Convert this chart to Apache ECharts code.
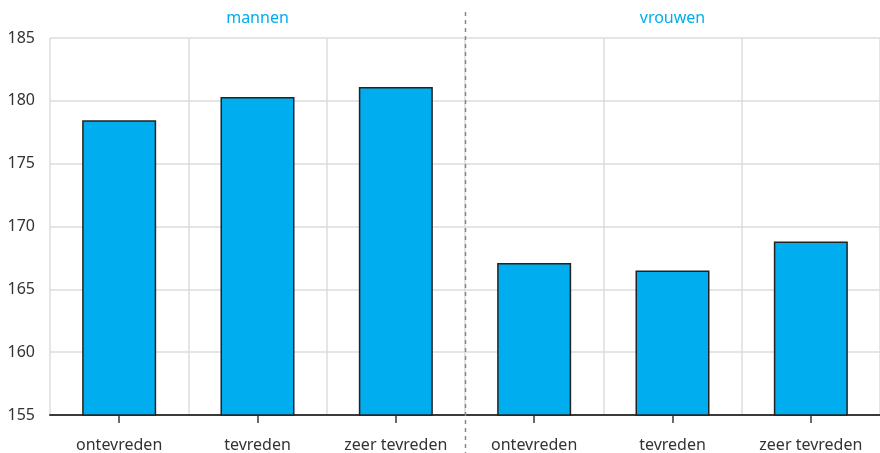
<!DOCTYPE html>
<html><head><meta charset="utf-8">
<script src="https://cdn.jsdelivr.net/npm/echarts@6/dist/echarts.min.js"></script>
<style>html,body{margin:0;padding:0;background:#fff}#c{width:880px;height:453px}</style>
</head><body><div id="c"></div>
<script>
const categories = ['ontevreden','tevreden','zeer tevreden','ontevreden','tevreden','zeer tevreden'];
const groups = ['mannen','vrouwen'];
const values = [178.45, 180.3, 181.1, 167.1, 166.5, 168.8];
const yTicks = {min:155, max:185, interval:5};

const chart = echarts.init(document.getElementById('c'), null, {renderer:'canvas'});
const font = 'Noto Sans';
chart.setOption({
  animation:false,
  grid:{left:50, width:833, top:38, bottom:38},
  xAxis:[{
    type:'category', data:categories, boundaryGap:true,
    axisLine:{lineStyle:{color:'#3a3a3a', width:2}},
    axisTick:{show:true, alignWithLabel:true, inside:false, length:8, lineStyle:{color:'#3a3a3a', width:1.5}},
    axisLabel:{color:'#333', fontFamily:font, fontSize:16, margin:22},
    splitLine:{show:true, lineStyle:{color:'#dcdcdc', width:1.5}}
  },{
    type:'category', data:groups, position:'top', boundaryGap:true,
    axisLine:{show:false}, axisTick:{show:false}, splitLine:{show:false},
    axisLabel:{color:'#00AEEF', fontFamily:font, fontSize:16, margin:12}
  }],
  yAxis:{
    type:'value', min:yTicks.min, max:yTicks.max, interval:yTicks.interval,
    axisLine:{show:false}, axisTick:{show:false},
    axisLabel:{color:'#333', fontFamily:font, fontSize:16, margin:15},
    splitLine:{lineStyle:{color:'#dcdcdc', width:1.5}}
  },
  series:[{
    type:'bar', data:values, barWidth:'53.5%',
    itemStyle:{color:'#00AEEF', borderColor:'#222', borderWidth:1.5}
  }]
});
const x2 = chart.convertToPixel({xAxisIndex:0}, 2);
const x3 = chart.convertToPixel({xAxisIndex:0}, 3);
const xs = Math.round((x2+x3)/2)+0.5;
chart.setOption({graphic:[{type:'line', shape:{x1:xs, y1:12, x2:xs, y2:453},
  style:{stroke:'#888', lineWidth:1.5, lineDash:[4,4]}, z:10}]});
</script></body></html>
